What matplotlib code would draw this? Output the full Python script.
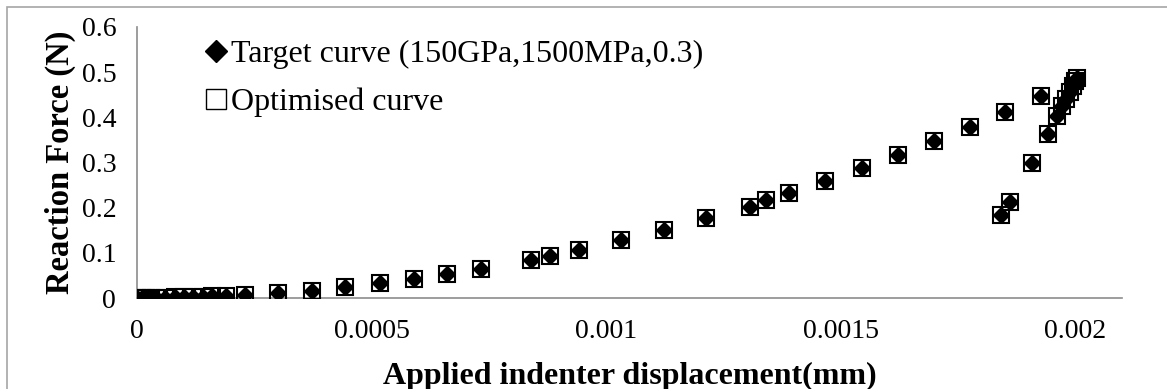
import matplotlib
matplotlib.use("Agg")
import matplotlib.pyplot as plt
from matplotlib.lines import Line2D
from matplotlib.patches import Rectangle

# indentation load-displacement data (mm, N)
displacement = [
    0, 0.00001, 0.00002, 0.00003, 0.00004, 0.00006, 0.00008, 0.0001,
    0.00012, 0.00014, 0.00016, 0.00019, 0.000231, 0.000301, 0.000374,
    0.000444, 0.000519, 0.000590, 0.000660, 0.000733, 0.000840, 0.000880,
    0.000942, 0.001032, 0.001124, 0.001214, 0.001306, 0.00134, 0.00139,
    0.001466, 0.001545, 0.001622, 0.001699, 0.001776, 0.00185, 0.001927,
    0.001842, 0.001861, 0.001908, 0.001942, 0.001962, 0.001972, 0.001981,
    0.001989, 0.001996, 0.002, 0.002004,
]
target_force = [
    0, 0.0001, 0.0002, 0.0004, 0.0006, 0.0009, 0.0013, 0.0018,
    0.0024, 0.003, 0.0037, 0.005, 0.007, 0.011, 0.016,
    0.024, 0.033, 0.042, 0.053, 0.064, 0.084, 0.093,
    0.107, 0.129, 0.151, 0.178, 0.202, 0.218, 0.233,
    0.258, 0.287, 0.316, 0.347, 0.378, 0.411, 0.447,
    0.184, 0.213, 0.300, 0.362, 0.402, 0.424, 0.44,
    0.456, 0.469, 0.48, 0.487,
]
optimised_force = list(target_force)

x_ticks = [0, 0.0005, 0.001, 0.0015, 0.002]
x_tick_labels = ["0", "0.0005", "0.001", "0.0015", "0.002"]
y_ticks = [0, 0.1, 0.2, 0.3, 0.4, 0.5, 0.6]
y_tick_labels = ["0", "0.1", "0.2", "0.3", "0.4", "0.5", "0.6"]

plt.rcParams["font.family"] = ["Liberation Serif", "DejaVu Serif"]

W, H = 1167, 389
fig = plt.figure(figsize=(W / 100, H / 100), dpi=100)
ax = fig.add_axes([137 / W, 1 - 298 / H, (1122 - 137) / W, (298 - 27) / H])

ax.plot(displacement, target_force, linestyle="none", marker="D",
        markersize=8.6, color="black", zorder=3)
ax.plot(displacement, optimised_force, linestyle="none", marker="s",
        markersize=12.2, markerfacecolor="none", markeredgecolor="black",
        markeredgewidth=1.5, zorder=4)

ax.set_xlim(0, 0.0021)
ax.set_ylim(0, 0.6)
ax.set_xticks(x_ticks)
ax.set_xticklabels(x_tick_labels)
ax.set_yticks(y_ticks)
ax.set_yticklabels(y_tick_labels)
ax.tick_params(length=0, labelsize=20, pad=15)

for side in ["top", "right"]:
    ax.spines[side].set_visible(False)
for side in ["left", "bottom"]:
    ax.spines[side].set_color("#8c8c8c")
    ax.spines[side].set_linewidth(1.2)

ax.set_xlabel("Applied indenter displacement(mm)", fontsize=23,
              fontweight="bold", labelpad=13)
ax.set_ylabel("Reaction Force (N)", fontsize=23.5, fontweight="bold",
              labelpad=4)

handles = [
    Line2D([], [], linestyle="none", marker="D", markersize=11,
           color="black"),
    Line2D([], [], linestyle="none", marker="s", markersize=15,
           markerfacecolor="none", markeredgecolor="black",
           markeredgewidth=1.0),
]
ax.legend(handles, ["Target curve (150GPa,1500MPa,0.3)", "Optimised curve"],
          loc="upper left", bbox_to_anchor=(204 / W, 1 - 40 / H),
          bbox_transform=fig.transFigure, frameon=False, fontsize=23,
          handlelength=0.75, handletextpad=0.1, labelspacing=0.56,
          borderaxespad=0, borderpad=0)

# outer chart border
fig.patches.append(Rectangle((7 / W, -0.1), 1.2, 1 - 7 / H + 0.1,
                             transform=fig.transFigure, fill=False,
                             edgecolor="#a6a6a6", linewidth=1.2))

fig.savefig("out.png", dpi=100)
